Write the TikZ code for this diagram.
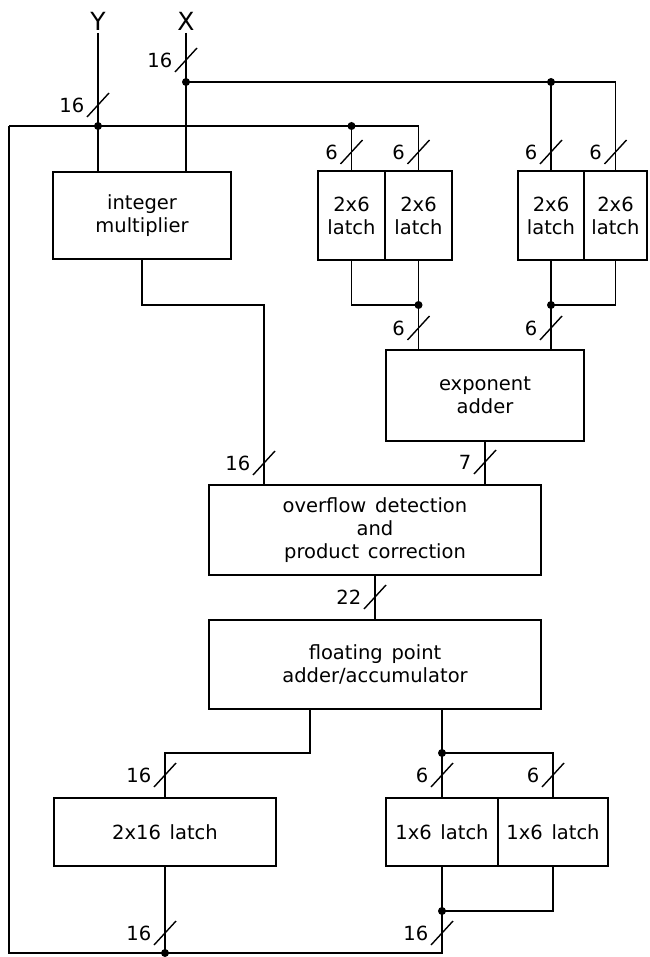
\documentclass[tikz,border=0pt]{standalone}
\usepackage{fontspec}
\setmainfont{DejaVu Sans}
\usetikzlibrary{positioning, calc}
\newcommand\blockfont{\fontsize{19.5}{23}\selectfont\spaceskip=0.45em plus 0.1em\relax}

\begin{document}
\begin{tikzpicture}[
    x=1pt, y=-1pt, line width=1.5pt,
    font=\blockfont,
    block/.style={draw, outer sep=0pt, inner sep=1pt, align=center},
    ioname/.style={font=\fontsize{25}{25}\selectfont, inner sep=2pt},
    pics/bus/.style={code={
        \draw[line width=1.4pt] (-11,12) -- (11,-12);
        \node[anchor=east, inner sep=1pt] (lbl) at (-12,0) {#1};}},
]
\useasboundingbox (0,0) rectangle (649,957);

%% ========== INPUTS ==========
\node[ioname] (Y) at (98,21) {Y};
\node[ioname] (X) at (186,21) {X};

%% ========== BLOCKS ==========
\node[block, minimum width=178pt, minimum height=87pt] (mult) at (142,215.5) {integer\\multiplier};
\node[block, minimum width=67pt, minimum height=89pt] (lat1) at (351.5,215.5) {2x6\\latch};
\node[block, minimum width=67pt, minimum height=89pt, right=0pt of lat1] (lat2) {2x6\\latch};
\node[block, minimum width=66pt, minimum height=89pt] (rlat1) at (551,215.5) {2x6\\latch};
\node[block, minimum width=63pt, minimum height=89pt, right=0pt of rlat1] (rlat2) {2x6\\latch};
\node[block, minimum width=198pt, minimum height=91pt] (exp) at (485,395.5) {exponent\\adder};
\node[block, minimum width=332pt, minimum height=90pt] (ovf) at (375,530)
    {overflow detection\\and\\product correction};
\node[block, minimum width=332pt, minimum height=89pt] (fpa) at (375,664.5)
    {floating point\\adder/accumulator};
\node[block, minimum width=222pt, minimum height=68pt] (l16) at (165,832) {2x16 latch};
\node[block, minimum width=112pt, minimum height=68pt] (lx1) at (442,832) {1x6 latch};
\node[block, minimum width=110pt, minimum height=68pt, right=0pt of lx1] (lx2) {1x6 latch};

%% ========== JUNCTIONS ==========
\coordinate (xdot) at (186,82);
\coordinate (ydot) at (98,126);
\coordinate (fbk) at (9,126);
\coordinate (fbb) at (9,953);
\coordinate (rdot) at (rlat1.north |- xdot);
\coordinate (ldot) at (lat1.north |- ydot);
\coordinate (ljoin) at ($(lat2.south)+(0,45)$);
\coordinate (rjoin) at ($(rlat1.south)+(0,45)$);
\coordinate (mbend) at (264,305);
\coordinate (fl) at (310,753);
\coordinate (fdot) at (442,753);
\coordinate (bdot) at (lx1.south |- 0,911);
\coordinate (b16) at (l16.south |- fbb);

%% ========== WIRES ==========
\draw (Y.south) -- (ydot) -- (ydot |- mult.north);
\draw (X.south) -- (xdot) -- (xdot |- mult.north);
\draw (xdot) -- (rdot) -| (rlat2.north);
\draw (rdot) -- (rlat1.north);
\draw (fbk) -- (ydot) -- (ldot) -| (lat2.north);
\draw (ldot) -- (lat1.north);
\draw (lat1.south) |- (ljoin);
\draw (lat2.south) -- (ljoin) -- (ljoin |- exp.north);
\draw (rlat2.south) |- (rjoin);
\draw (rlat1.south) -- (rjoin) -- (rjoin |- exp.north);
\draw (mult.south) |- (mbend) -- (mbend |- ovf.north);
\draw (exp.south) -- (exp.south |- ovf.north);
\draw (ovf.south) -- (fpa.north);
\draw (fl |- fpa.south) -- (fl) -| (l16.north);
\draw (fdot |- fpa.south) -- (fdot) -- (lx1.north);
\draw (fdot) -| (lx2.north);
\draw (lx2.south) |- (bdot);
\draw (lx1.south) -- (bdot) |- (fbb) -- (fbk);
\draw (l16.south) -- (b16);

\foreach \p in {xdot, ydot, rdot, ldot, ljoin, rjoin, fdot, bdot, b16}
    \fill (\p) circle (4);

%% ========== BUS WIDTHS ==========
\pic (bx) at (186,60) {bus=16};
\pic (by) at (98,105) {bus=16};
\pic (bl1) at (351.5,152) {bus=6};
\pic (bl2) at (418.5,152) {bus=6};
\pic (br1) at (551,152) {bus=6};
\pic (br2) at (615.5,152) {bus=6};
\pic (be1) at (418.5,328) {bus=6};
\pic (be2) at (551,328) {bus=6};
\pic (bm) at (264,463) {bus=16};
\pic (be) at (485,462) {bus=7};
\pic (bo) at (375,597) {bus=22};
\pic (bi16) at (165,775) {bus=16};
\pic (bi1) at (442,775) {bus=6};
\pic (bi2) at (553,775) {bus=6};
\pic (bo16) at (165,933) {bus=16};
\pic (bo6) at (442,933) {bus=16};
\end{tikzpicture}
\end{document}
